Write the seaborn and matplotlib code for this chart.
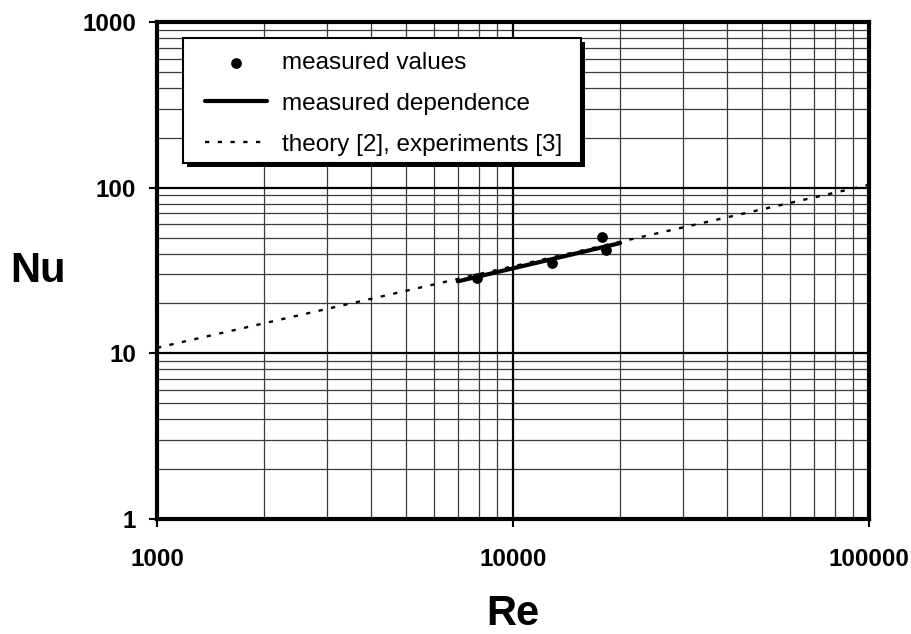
import matplotlib
matplotlib.use("Agg")
import matplotlib.pyplot as plt
import seaborn as sns
import pandas as pd
import numpy as np
from matplotlib.ticker import FixedLocator
from matplotlib.patches import Rectangle

# ---- data ----
re_measured = [7900, 12900, 17800, 18200]
nu_measured = [28.4, 34.9, 50.6, 42.0]

re_dependence = [7000, 20000]
nu_dependence = [27.2, 46.3]

re_theory = [1000, 100000]
nu_theory = [10.8, 104]

x_ticks = [1000, 10000, 100000]
x_ticklabels = ["1000", "10000", "100000"]
y_ticks = [1, 10, 100, 1000]
y_ticklabels = ["1", "10", "100", "1000"]

legend_labels = ["measured values", "measured dependence", "theory [2], experiments [3]"]

sns.set_theme(style="white")
plt.rcParams["font.family"] = ["Liberation Sans", "DejaVu Sans"]
plt.rcParams["text.color"] = "black"
plt.rcParams["axes.labelcolor"] = "black"
plt.rcParams["xtick.color"] = "black"
plt.rcParams["ytick.color"] = "black"

W, H = 912, 634
fig = plt.figure(figsize=(W / 100, H / 100), dpi=100)
ax = fig.add_axes([157 / W, 1 - 519 / H, 712 / W, 497 / H])

df_m = pd.DataFrame({"Re": re_measured, "Nu": nu_measured})
df_d = pd.DataFrame({"Re": re_dependence, "Nu": nu_dependence})
df_t = pd.DataFrame({"Re": re_theory, "Nu": nu_theory})

ax.set_xscale("log")
ax.set_yscale("log")
ax.set_xlim(1000, 100000)
ax.set_ylim(1, 1000)

# grid
minor_x = [m * d for d in (1000, 10000) for m in range(2, 10)]
minor_y = [m * d for d in (1, 10, 100) for m in range(2, 10)]
for v in minor_x:
    ax.axvline(v, color="#3a3a3a", lw=0.9, zorder=1)
for v in minor_y:
    ax.axhline(v, color="#3a3a3a", lw=0.9, zorder=1)
for v in x_ticks[1:-1]:
    ax.axvline(v, color="black", lw=1.6, zorder=1)
for v in y_ticks[1:-1]:
    ax.axhline(v, color="black", lw=1.6, zorder=1)

sns.lineplot(data=df_t, x="Re", y="Nu", ax=ax, color="black", lw=1.7,
             linestyle=(0, (1.8, 3.6)), label=legend_labels[2], zorder=3)
sns.lineplot(data=df_d, x="Re", y="Nu", ax=ax, color="black", lw=3.0,
             label=legend_labels[1], zorder=4)
sns.scatterplot(data=df_m, x="Re", y="Nu", ax=ax, color="black", s=60,
                edgecolor="black", linewidth=0, label=legend_labels[0], zorder=5)

ax.xaxis.set_major_locator(FixedLocator(x_ticks))
ax.yaxis.set_major_locator(FixedLocator(y_ticks))
ax.xaxis.set_minor_locator(FixedLocator([]))
ax.yaxis.set_minor_locator(FixedLocator([]))
ax.set_xticklabels(x_ticklabels, fontsize=17.5, fontweight="bold", color="black")
ax.set_yticklabels(y_ticklabels, fontsize=17.5, fontweight="bold", color="black")
ax.tick_params(axis="both", which="major", direction="out", length=6, width=1.5,
               color="black", bottom=True, left=True)
ax.tick_params(axis="x", pad=15)
ax.tick_params(axis="y", pad=9)

for sp in ax.spines.values():
    sp.set_visible(True)
    sp.set_color("black")
    sp.set_linewidth(3.0)

ax.set_xlabel("Re", fontsize=30, fontweight="bold", color="black", va="center")
ax.xaxis.set_label_coords(0.5, (519 - 614) / 497)
ax.set_ylabel("Nu", fontsize=30, fontweight="bold", rotation=0, ha="center", va="center",
              color="black")
ax.yaxis.set_label_coords((38 - 157) / 712, (519 - 271) / 497)

# legend box with shadow (pixel coordinates of the reference)
bx0, by0, bx1, by1 = 182.7, 38.3, 580.7, 163.0
off = 4
shadow = Rectangle((((bx0 + off) / W), 1 - (by1 + off) / H), (bx1 - bx0) / W, (by1 - by0) / H,
                   transform=fig.transFigure, facecolor="black", edgecolor="none", zorder=8)
box = Rectangle((bx0 / W, 1 - by1 / H), (bx1 - bx0) / W, (by1 - by0) / H,
                transform=fig.transFigure, facecolor="white", edgecolor="black", lw=1.5, zorder=9)
ax.add_patch(shadow)
ax.add_patch(box)
shadow.set_clip_on(False)
box.set_clip_on(False)

handles, labels = ax.get_legend_handles_labels()
order = [labels.index(l) for l in legend_labels]
leg = ax.legend([handles[i] for i in order], [labels[i] for i in order],
                loc="upper left", bbox_to_anchor=(205 / W, 1 - 52 / H),
                bbox_transform=fig.transFigure,
                borderaxespad=0, fontsize=17.5, frameon=False,
                handlelength=2.55, handletextpad=0.6,
                labelspacing=0.78, borderpad=0)
for t in leg.get_texts():
    t.set_color("black")
leg.set_zorder(10)

fig.savefig("out.png", dpi=100)
